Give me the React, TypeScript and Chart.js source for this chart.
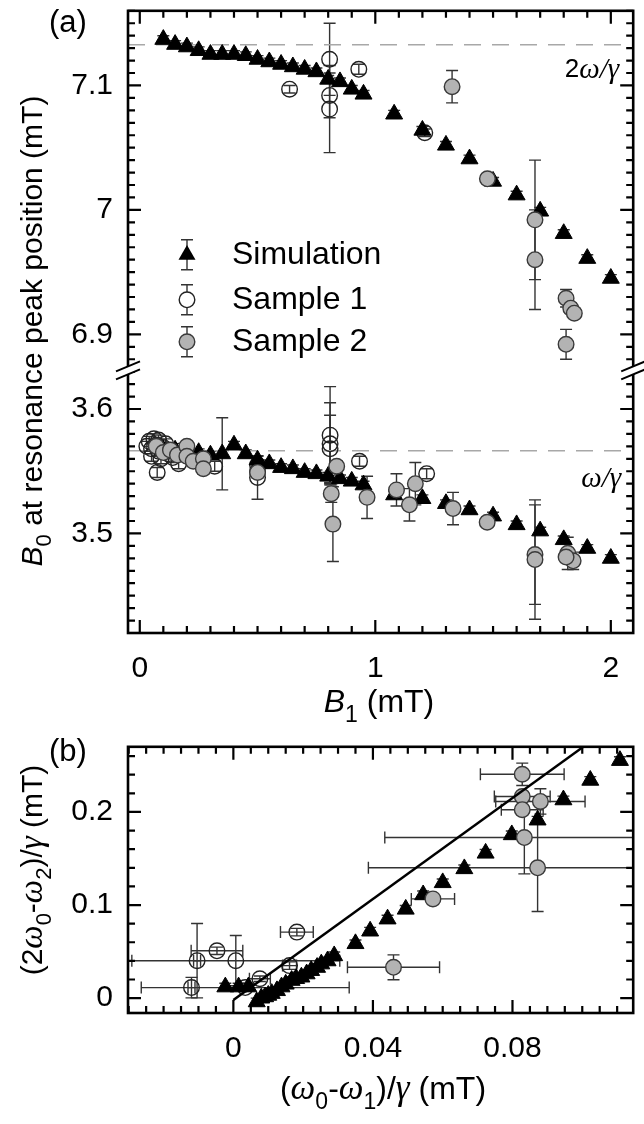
import React, { useEffect, useRef } from "react";
import { Chart, registerables } from "chart.js";

Chart.register(...registerables);

const SANS = '"Liberation Sans", Arial, Helvetica, sans-serif';
const SERIF = '"Liberation Serif", "Times New Roman", serif';

// ---------------- Panel (a): B0 at resonance peak position vs B1 ----------------
const simB1 = [0.1, 0.15, 0.2, 0.25, 0.3, 0.35, 0.4, 0.45, 0.5, 0.55, 0.6, 0.65, 0.7, 0.75, 0.8, 0.85, 0.9, 0.95, 1.08, 1.2, 1.3, 1.4, 1.5, 1.6, 1.7, 1.8, 1.9, 2.0];
const simUpper = [7.137, 7.133, 7.131, 7.128, 7.125, 7.125, 7.125, 7.124, 7.121, 7.119, 7.117, 7.115, 7.113, 7.111, 7.105, 7.103, 7.097, 7.093, 7.077, 7.064, 7.052, 7.041, 7.023, 7.012, 6.999, 6.981, 6.961, 6.945];
const simUpperErr = [0.003, 0.003, 0.003, 0.003, 0.003, 0.003, 0.003, 0.003, 0.003, 0.003, 0.003, 0.003, 0.003, 0.003, 0.003, 0.003, 0.003, 0.003, 0.003, 0.003, 0.003, 0.003, 0.003, 0.003, 0.003, 0.003, 0.003, 0.003];
const simLower = [3.567, 3.567, 3.566, 3.565, 3.563, 3.564, 3.571, 3.564, 3.559, 3.556, 3.553, 3.552, 3.549, 3.548, 3.546, 3.544, 3.542, 3.539, 3.531, 3.528, 3.524, 3.519, 3.514, 3.507, 3.502, 3.495, 3.488, 3.48];
const simLowerErr = [0.003, 0.003, 0.003, 0.003, 0.003, 0.029, 0.003, 0.003, 0.003, 0.003, 0.003, 0.003, 0.003, 0.003, 0.003, 0.003, 0.003, 0.003, 0.003, 0.003, 0.003, 0.003, 0.003, 0.003, 0.003, 0.003, 0.003, 0.003];

const s1UpperB1 = [0.636, 0.806, 0.806, 0.806, 0.93, 1.21];
const s1Upper = [7.097, 7.121, 7.092, 7.081, 7.113, 7.062];
const s1UpperErr = [0.003, 0.029, 0.018, 0.035, 0.004, 0.003];

const s2UpperB1 = [1.326, 1.476, 1.678, 1.678, 1.81, 1.83, 1.845, 1.81];
const s2Upper = [7.099, 7.025, 6.992, 6.96, 6.929, 6.921, 6.917, 6.892];
const s2UpperErr = [0.013, 0.003, 0.048, 0.04, 0.007, 0.004, 0.004, 0.012];

const s1LowerB1 = [0.03, 0.04, 0.05, 0.05, 0.06, 0.07, 0.08, 0.08, 0.09, 0.1, 0.11, 0.074, 0.12, 0.14, 0.165, 0.165, 0.318, 0.5, 0.5, 0.5, 0.808, 0.808, 0.808, 0.933, 1.218];
const s1Lower = [3.57, 3.574, 3.568, 3.562, 3.576, 3.571, 3.566, 3.575, 3.56, 3.569, 3.572, 3.549, 3.564, 3.561, 3.566, 3.556, 3.554, 3.555, 3.55, 3.545, 3.579, 3.572, 3.568, 3.558, 3.548];
const s1LowerErr = [0.004, 0.004, 0.004, 0.004, 0.004, 0.004, 0.004, 0.004, 0.004, 0.004, 0.004, 0.004, 0.004, 0.004, 0.004, 0.004, 0.004, 0.004, 0.004, 0.0175, 0.039, 0.033, 0.027, 0.004, 0.004];

const s2LowerB1 = [0.07, 0.1, 0.13, 0.16, 0.2, 0.2, 0.227, 0.27, 0.27, 0.5, 0.836, 0.813, 0.82, 0.965, 1.09, 1.17, 1.145, 1.33, 1.475, 1.678, 1.678, 1.817, 1.84, 1.81];
const s2Lower = [3.57, 3.565, 3.567, 3.563, 3.57, 3.562, 3.558, 3.56, 3.552, 3.549, 3.554, 3.532, 3.5075, 3.529, 3.535, 3.54, 3.523, 3.52, 3.509, 3.483, 3.479, 3.484, 3.478, 3.481];
const s2LowerErr = [0.004, 0.004, 0.004, 0.004, 0.004, 0.004, 0.004, 0.004, 0.004, 0.004, 0.004, 0.007, 0.03, 0.017, 0.013, 0.017, 0.013, 0.013, 0.004, 0.04, 0.048, 0.013, 0.007, 0.004];

const twoOmegaOverGamma = 7.1328;
const omegaOverGamma = 3.5664;

const aXTickVals = [0, 1, 2];
const aXTickLabels = ["0", "1", "2"];
const aYTopTickVals = [6.9, 7.0, 7.1];
const aYTopTickLabels = ["6.9", "7", "7.1"];
const aYBotTickVals = [3.5, 3.6];
const aYBotTickLabels = ["3.5", "3.6"];
const legendLabels = ["Simulation", "Sample 1", "Sample 2"];

// ---------------- Panel (b): (2w0-w2)/g vs (w0-w1)/g ----------------
const simBx = [-0.0023, 0.0015, 0.0043, 0.0067, 0.008, 0.0091, 0.01, 0.011, 0.0125, 0.0138, 0.015, 0.0167, 0.018, 0.0195, 0.021, 0.0223, 0.024, 0.0252, 0.027, 0.0289, 0.035, 0.0392, 0.0442, 0.0494, 0.0544, 0.06, 0.0662, 0.0723, 0.0798, 0.0872, 0.0946, 0.1023, 0.1108];
const simBy = [0.012, 0.012, 0.012, -0.004, 0.0, 0.0014, 0.003, 0.005, 0.008, 0.012, 0.015, 0.019, 0.021, 0.0226, 0.026, 0.0296, 0.033, 0.0367, 0.04, 0.0455, 0.0585, 0.072, 0.085, 0.0955, 0.111, 0.124, 0.139, 0.1557, 0.1755, 0.1913, 0.213, 0.234, 0.2553];
const simByErr = [0.004, 0.004, 0.004, 0.004, 0.004, 0.004, 0.004, 0.004, 0.004, 0.004, 0.004, 0.004, 0.004, 0.004, 0.004, 0.004, 0.004, 0.004, 0.004, 0.004, 0.004, 0.004, 0.004, 0.004, 0.004, 0.004, 0.004, 0.004, 0.004, 0.004, 0.004, 0.004, 0.004];

const s1Bx = [-0.0104, -0.012, -0.0047, 0.0007, 0.0076, 0.0161, 0.0182, 0.0034];
const s1By = [0.0402, 0.0113, 0.0508, 0.0402, 0.0208, 0.0349, 0.0709, 0.0113];
const s1BxErr = [0.001, 0.001, 0.0074, 0.0298, 0.003, 0.002, 0.0047, 0.0298];
const s1ByErr = [0.04, 0.011, 0.004, 0.027, 0.003, 0.004, 0.004, 0.004];

const s2Bx = [0.0828, 0.0828, 0.088, 0.0828, 0.0834, 0.0872, 0.0572, 0.0459];
const s2By = [0.2405, 0.2166, 0.2113, 0.2024, 0.1725, 0.14, 0.1066, 0.0331];
const s2BxErr = [0.012, 0.008, 0.0128, 0.006, 0.04, 0.0485, 0.0062, 0.0132];
const s2ByErr = [0.012, 0.005, 0.0136, 0.004, 0.039, 0.047, 0.004, 0.0134];

const fitX = [0.0, 0.1003];
const fitY = [-0.002, 0.27];

const bXTickVals = [0, 0.04, 0.08];
const bXTickLabels = ["0", "0.04", "0.08"];
const bYTickVals = [0, 0.1, 0.2];
const bYTickLabels = ["0", "0.1", "0.2"];

// ---------------- helpers ----------------
const pts = (xs: number[], ys: number[]) => xs.map((x, i) => ({ x, y: ys[i] }));
const isMult = (v: number, step: number) => Math.abs(v / step - Math.round(v / step)) < 1e-6;
const labelFor = (v: number, vals: number[], labels: string[]) => {
  const i = vals.findIndex((t) => Math.abs(t - v) < 1e-6);
  return i >= 0 ? labels[i] : "";
};
const stepTicks = (min: number, max: number, step: number) => {
  const out: { value: number }[] = [];
  const i0 = Math.ceil(min / step - 1e-9);
  const i1 = Math.floor(max / step + 1e-9);
  for (let i = i0; i <= i1; i++) out.push({ value: Math.round(i * step * 1e9) / 1e9 });
  return out;
};

const TICK_FONT = { family: SANS, size: 30 };

type Seg = { t: string; it?: boolean; serif?: boolean; sub?: boolean };

function drawRich(ctx: CanvasRenderingContext2D, segs: Seg[], size: number, x: number, y: number, align: "left" | "center" | "right", rot = 0, baseline: CanvasTextBaseline = "alphabetic") {
  ctx.save();
  ctx.translate(x, y);
  ctx.rotate(rot);
  ctx.textBaseline = baseline;
  ctx.textAlign = "left";
  ctx.fillStyle = "#000";
  const fontOf = (s: Seg) => {
    let sz = s.sub ? Math.round(size * 0.72) : size;
    if (s.serif) sz = Math.round(sz * 1.1);
    return `${s.it ? "italic " : ""}${sz}px ${s.serif ? SERIF : SANS}`;
  };
  const ws = segs.map((s) => {
    ctx.font = fontOf(s);
    return ctx.measureText(s.t).width;
  });
  const total = ws.reduce((a, b) => a + b, 0);
  let cx = align === "center" ? -total / 2 : align === "right" ? -total : 0;
  segs.forEach((s, i) => {
    ctx.font = fontOf(s);
    ctx.fillText(s.t, cx, s.sub ? size * 0.3 : 0);
    cx += ws[i];
  });
  ctx.restore();
}

function drawErrorBars(chart: any) {
  const ctx: CanvasRenderingContext2D = chart.ctx;
  const a = chart.chartArea;
  ctx.save();
  ctx.beginPath();
  ctx.rect(a.left, a.top, a.right - a.left, a.bottom - a.top);
  ctx.clip();
  ctx.lineWidth = 1.4;
  chart.data.datasets.forEach((ds: any) => {
    if (!ds.yErr && !ds.xErr) return;
    const xs = chart.scales[ds.xAxisID || "x"];
    const ys = chart.scales[ds.yAxisID || "y"];
    ctx.strokeStyle = "#333";
    const cap = 6;
    ds.data.forEach((p: any, j: number) => {
      const px = xs.getPixelForValue(p.x);
      const py = ys.getPixelForValue(p.y);
      ctx.beginPath();
      if (ds.yErr && ds.yErr[j] > 0) {
        const t = ys.getPixelForValue(p.y + ds.yErr[j]);
        const b = ys.getPixelForValue(p.y - ds.yErr[j]);
        ctx.moveTo(px, t); ctx.lineTo(px, b);
        ctx.moveTo(px - cap, t); ctx.lineTo(px + cap, t);
        ctx.moveTo(px - cap, b); ctx.lineTo(px + cap, b);
      }
      if (ds.xErr && ds.xErr[j] > 0) {
        const l = xs.getPixelForValue(p.x - ds.xErr[j]);
        const r = xs.getPixelForValue(p.x + ds.xErr[j]);
        ctx.moveTo(l, py); ctx.lineTo(r, py);
        ctx.moveTo(l, py - cap); ctx.lineTo(l, py + cap);
        ctx.moveTo(r, py - cap); ctx.lineTo(r, py + cap);
      }
      ctx.stroke();
    });
  });
  ctx.restore();
}

function drawFrameAndTicks(chart: any, specs: Record<string, { minor: number; major: number }>) {
  const ctx: CanvasRenderingContext2D = chart.ctx;
  const a = chart.chartArea;
  ctx.save();
  ctx.strokeStyle = "#000";
  ctx.lineWidth = 2.2;
  ctx.lineCap = "butt";
  for (const id of Object.keys(specs)) {
    const sc = chart.scales[id];
    const sp = specs[id];
    for (const t of sc.ticks) {
      const v = t.value;
      if (!isMult(v, sp.minor)) continue;
      const len = isMult(v, sp.major) ? 13 : 7;
      const p = sc.getPixelForValue(v);
      ctx.beginPath();
      if (sc.isHorizontal()) {
        ctx.moveTo(p, a.bottom); ctx.lineTo(p, a.bottom - len);
        ctx.moveTo(p, a.top); ctx.lineTo(p, a.top + len);
      } else {
        ctx.moveTo(a.left, p); ctx.lineTo(a.left + len, p);
        ctx.moveTo(a.right, p); ctx.lineTo(a.right - len, p);
      }
      ctx.stroke();
    }
  }
  ctx.lineWidth = 2.6;
  ctx.strokeRect(a.left, a.top, a.right - a.left, a.bottom - a.top);
  ctx.restore();
}

function triPath(ctx: CanvasRenderingContext2D, x: number, y: number, r: number) {
  ctx.beginPath();
  ctx.moveTo(x, y - r);
  ctx.lineTo(x + r * 0.866, y + r / 2);
  ctx.lineTo(x - r * 0.866, y + r / 2);
  ctx.closePath();
}

const SIM_STYLE = { pointStyle: "triangle", pointRadius: 9.8, backgroundColor: "#000", borderColor: "#000", pointBorderWidth: 1 };
const OPEN_STYLE = { pointStyle: "circle", pointRadius: 7.8, backgroundColor: "rgba(255,255,255,0)", borderColor: "#222", pointBorderWidth: 1.4 };
const GREY_STYLE = { pointStyle: "circle", pointRadius: 7.8, backgroundColor: "#b3b3b3", borderColor: "#3a3a3a", pointBorderWidth: 1.4 };
const DASH_STYLE = { showLine: true, borderColor: "#a8a8a8", borderWidth: 1.5, borderDash: [17, 11], pointRadius: 0 };

function axisOpts(extra: any, step: number, vals: number[], labels: string[], padding: number, size: { w?: number; h?: number }) {
  return {
    type: "linear",
    bounds: "data",
    grid: { display: false, drawTicks: false },
    border: { display: false },
    ticks: {
      autoSkip: false,
      maxRotation: 0,
      padding,
      font: TICK_FONT,
      color: "#000",
      callback: (v: any) => labelFor(Number(v), vals, labels),
    },
    afterBuildTicks: (s: any) => {
      s.ticks = stepTicks(s.min, s.max, step);
    },
    afterFit: (s: any) => {
      if (size.w !== undefined) s.width = size.w;
      if (size.h !== undefined) s.height = size.h;
      s.paddingLeft = 0;
      s.paddingRight = 0;
      s.paddingTop = 0;
      s.paddingBottom = 0;
    },
    ...extra,
  };
}

// ---------------- chart configs ----------------
function configA(): any {
  const specs = {
    x: { minor: 0.1, major: 1 },
    yTop: { minor: 0.01, major: 0.1 },
    yBot: { minor: 0.01, major: 0.1 },
  };
  const plugin = {
    id: "panelA",
    beforeDatasetsDraw(chart: any) {
      drawErrorBars(chart);
    },
    afterDraw(chart: any) {
      const ctx: CanvasRenderingContext2D = chart.ctx;
      const a = chart.chartArea;
      drawFrameAndTicks(chart, specs);
      // axis break marks
      const yb = chart.scales.yTop.bottom;
      ctx.save();
      for (const xe of [a.left, a.right]) {
        ctx.fillStyle = "#fff";
        ctx.beginPath();
        ctx.moveTo(xe - 12, yb + 1);
        ctx.lineTo(xe + 12, yb - 9);
        ctx.lineTo(xe + 12, yb - 1);
        ctx.lineTo(xe - 12, yb + 9);
        ctx.closePath();
        ctx.fill();
        ctx.strokeStyle = "#000";
        ctx.lineWidth = 2;
        ctx.beginPath();
        ctx.moveTo(xe - 12, yb + 1); ctx.lineTo(xe + 12, yb - 9);
        ctx.moveTo(xe - 12, yb + 9); ctx.lineTo(xe + 12, yb - 1);
        ctx.stroke();
      }
      // legend
      const lx = a.left + 59;
      const rows = [a.top + 244, a.top + 289, a.top + 331];
      ctx.lineWidth = 1.4;
      rows.forEach((ry, i) => {
        ctx.strokeStyle = "#333";
        ctx.beginPath();
        ctx.moveTo(lx, ry - 15); ctx.lineTo(lx, ry + 15);
        ctx.moveTo(lx - 6, ry - 15); ctx.lineTo(lx + 6, ry - 15);
        ctx.moveTo(lx - 6, ry + 15); ctx.lineTo(lx + 6, ry + 15);
        ctx.stroke();
        if (i === 0) {
          triPath(ctx, lx, ry, 9.8);
          ctx.fillStyle = "#000";
          ctx.fill();
        } else {
          ctx.beginPath();
          ctx.arc(lx, ry, 7.8, 0, Math.PI * 2);
          ctx.fillStyle = i === 1 ? "#fff" : "#b3b3b3";
          ctx.fill();
          ctx.strokeStyle = i === 1 ? "#222" : "#3a3a3a";
          ctx.stroke();
        }
        drawRich(ctx, [{ t: legendLabels[i] }], 32, lx + 45, ry, "left", 0, "middle");
      });
      ctx.restore();
      // annotations
      drawRich(ctx, [{ t: "2" }, { t: "ω", it: true, serif: true }, { t: "/", it: true, serif: true }, { t: "γ", it: true, serif: true }], 26, a.right - 14, chart.scales.yTop.getPixelForValue(7.1125), "right", 0, "middle");
      drawRich(ctx, [{ t: "ω", it: true, serif: true }, { t: "/", it: true, serif: true }, { t: "γ", it: true, serif: true }], 26, a.right - 12, chart.scales.yBot.getPixelForValue(3.5435), "right", 0, "middle");
      // panel label and titles
      drawRich(ctx, [{ t: "(a)" }], 31, 49, 32, "left");
      drawRich(ctx, [{ t: "B", it: true }, { t: "0", sub: true }, { t: " at resonance peak position (mT)" }], 30, 42, 331, "center", -Math.PI / 2);
      drawRich(ctx, [{ t: "B", it: true }, { t: "1", sub: true }, { t: " (mT)" }], 32, 379, 712, "center");
    },
  };
  const datasets: any[] = [
    { label: "Sample 2", data: pts(s2UpperB1, s2Upper), yErr: s2UpperErr, xAxisID: "x", yAxisID: "yTop", order: 1, ...GREY_STYLE },
    { label: "Sample 2", data: pts(s2LowerB1, s2Lower), yErr: s2LowerErr, xAxisID: "x", yAxisID: "yBot", order: 1, ...GREY_STYLE },
    { label: "Simulation", data: pts(simB1, simUpper), yErr: simUpperErr, xAxisID: "x", yAxisID: "yTop", order: 2, ...SIM_STYLE },
    { label: "Simulation", data: pts(simB1, simLower), yErr: simLowerErr, xAxisID: "x", yAxisID: "yBot", order: 2, ...SIM_STYLE },
    { label: "Sample 1", data: pts(s1UpperB1, s1Upper), yErr: s1UpperErr, xAxisID: "x", yAxisID: "yTop", order: 3, ...OPEN_STYLE },
    { label: "Sample 1", data: pts(s1LowerB1, s1Lower), yErr: s1LowerErr, xAxisID: "x", yAxisID: "yBot", order: 3, ...OPEN_STYLE },
    { label: "2ω/γ", data: pts([-0.05, 2.095], [twoOmegaOverGamma, twoOmegaOverGamma]), xAxisID: "x", yAxisID: "yTop", order: 5, ...DASH_STYLE },
    { label: "ω/γ", data: pts([-0.05, 2.095], [omegaOverGamma, omegaOverGamma]), xAxisID: "x", yAxisID: "yBot", order: 5, ...DASH_STYLE },
  ];
  return {
    type: "scatter",
    data: { datasets },
    plugins: [plugin],
    options: {
      responsive: false,
      animation: false,
      events: [],
      layout: { padding: { top: 4, right: 5, left: 0, bottom: 43 } },
      plugins: { legend: { display: false }, tooltip: { enabled: false } },
      scales: {
        x: axisOpts({ position: "bottom", min: -0.05, max: 2.095 }, 0.1, aXTickVals, aXTickLabels, 18, { h: 60 }),
        yBot: axisOpts({ position: "left", min: 3.42, max: 3.631, stack: "a", stackWeight: 0.211, weight: 0 }, 0.01, aYBotTickVals, aYBotTickLabels, 15, { w: 128 }),
        yTop: axisOpts({ position: "left", min: 6.871, max: 7.16, stack: "a", stackWeight: 0.289, weight: 1 }, 0.01, aYTopTickVals, aYTopTickLabels, 15, { w: 128 }),
      },
    },
  };
}

function configB(): any {
  const specs = {
    x: { minor: 0.005, major: 0.04 },
    y: { minor: 0.02, major: 0.1 },
  };
  const plugin = {
    id: "panelB",
    beforeDatasetsDraw(chart: any) {
      drawErrorBars(chart);
    },
    afterDraw(chart: any) {
      const ctx: CanvasRenderingContext2D = chart.ctx;
      drawFrameAndTicks(chart, specs);
      drawRich(ctx, [{ t: "(b)" }], 31, 49, 25, "left");
      drawRich(ctx, [
        { t: "(2" }, { t: "ω", it: true, serif: true }, { t: "0", sub: true }, { t: "-" }, { t: "ω", it: true, serif: true }, { t: "2", sub: true },
        { t: ")/" }, { t: "γ", it: true, serif: true }, { t: " (mT)" },
      ], 30, 42, 134, "center", -Math.PI / 2);
      drawRich(ctx, [
        { t: "(" }, { t: "ω", it: true, serif: true }, { t: "0", sub: true }, { t: "-" }, { t: "ω", it: true, serif: true }, { t: "1", sub: true },
        { t: ")/" }, { t: "γ", it: true, serif: true }, { t: " (mT)" },
      ], 32, 383, 363, "center");
    },
  };
  const datasets: any[] = [
    { label: "Linear", data: pts(fitX, fitY), order: 0, showLine: true, borderColor: "#000", borderWidth: 2.5, pointRadius: 0 },
    { label: "Sample 2", data: pts(s2Bx, s2By), xErr: s2BxErr, yErr: s2ByErr, order: 1, ...GREY_STYLE },
    { label: "Simulation", data: pts(simBx, simBy), yErr: simByErr, order: 2, ...SIM_STYLE },
    { label: "Sample 1", data: pts(s1Bx, s1By), xErr: s1BxErr, yErr: s1ByErr, order: 3, ...OPEN_STYLE },
  ];
  return {
    type: "scatter",
    data: { datasets },
    plugins: [plugin],
    options: {
      responsive: false,
      animation: false,
      events: [],
      layout: { padding: { top: 7, right: 5, left: 0, bottom: 51 } },
      plugins: { legend: { display: false }, tooltip: { enabled: false } },
      scales: {
        x: axisOpts({ position: "bottom", min: -0.0302, max: 0.1146 }, 0.005, bXTickVals, bXTickLabels, 18, { h: 60 }),
        y: axisOpts({ position: "left", min: -0.016, max: 0.27 }, 0.02, bYTickVals, bYTickLabels, 15, { w: 128 }),
      },
    },
  };
}

export default function App() {
  const refA = useRef<HTMLCanvasElement>(null);
  const refB = useRef<HTMLCanvasElement>(null);
  useEffect(() => {
    const ca = new Chart(refA.current as HTMLCanvasElement, configA());
    const cb = new Chart(refB.current as HTMLCanvasElement, configB());
    return () => {
      ca.destroy();
      cb.destroy();
    };
  }, []);
  return (
    <div style={{ position: "absolute", left: 0, top: 0, width: 644, height: 1124, background: "#fff" }}>
      <canvas ref={refA} width={644} height={736} style={{ position: "absolute", left: 0, top: 0 }} />
      <canvas ref={refB} width={644} height={388} style={{ position: "absolute", left: 0, top: 736 }} />
    </div>
  );
}
